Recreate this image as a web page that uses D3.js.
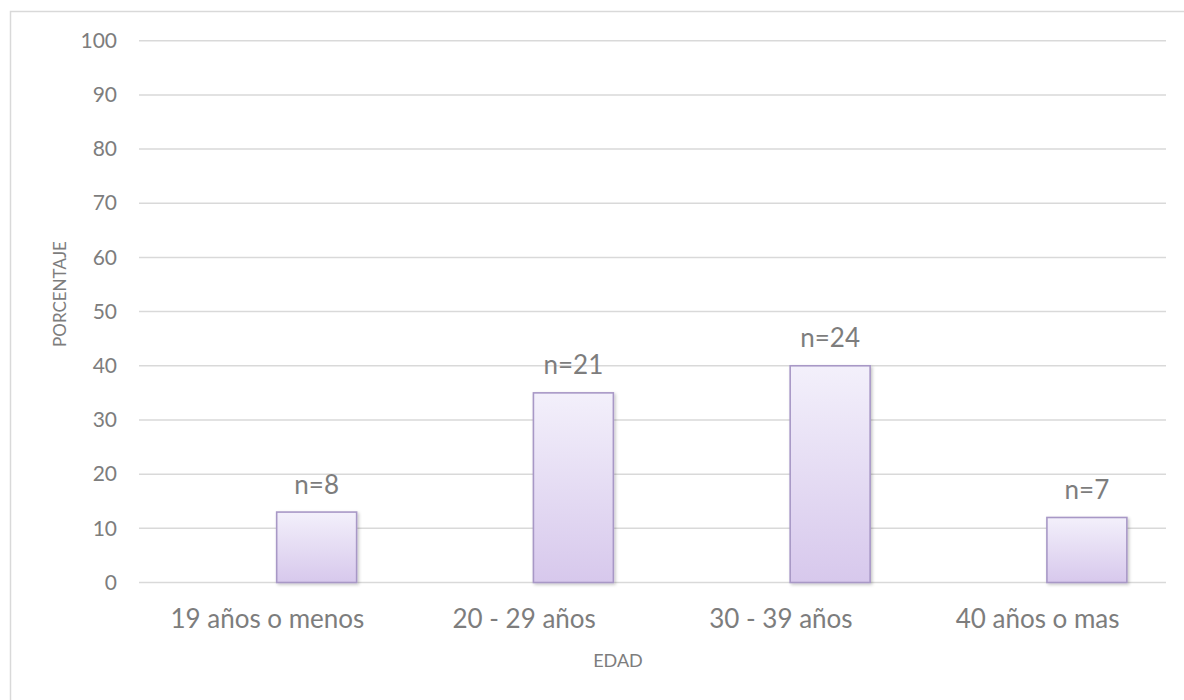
<!DOCTYPE html>
<html>
<head>
<meta charset="utf-8">
<script src="https://cdn.jsdelivr.net/npm/d3@7"></script>
<style>
  html, body { margin: 0; padding: 0; background: #ffffff; }
  svg { display: block; font-family: Lato, "Open Sans", sans-serif; }
</style>
</head>
<body>
<svg id="chart" width="1184" height="700"></svg>
<script>
// Age groups and their share of respondents (%)
const categories = ["19 años o menos", "20 - 29 años", "30 - 39 años", "40 años o mas"];
const percentages = [13, 35, 40, 12];
const counts = ["n=8", "n=21", "n=24", "n=7"];
// Clustered layout: an empty leading series, the values sit in the second slot
const seriesKeys = ["vacía", "porcentaje"];
const yTicks = [0, 10, 20, 30, 40, 50, 60, 70, 80, 90, 100];

const svg = d3.select("#chart");
const textColor = "#7d7d7d";
const gridColor = "#d9d9d9";

const plot = { left: 139, right: 1166, top: 40.7, bottom: 582.5 };

// Outer chart frame
svg.append("rect")
  .attr("x", 10.5).attr("y", 11.5)
  .attr("width", 1190).attr("height", 720)
  .attr("fill", "none").attr("stroke", gridColor).attr("stroke-width", 1.5);

const defs = svg.append("defs");
const grad = defs.append("linearGradient")
  .attr("id", "barFill").attr("x1", 0).attr("y1", 0).attr("x2", 0).attr("y2", 1);
grad.append("stop").attr("offset", "0%").attr("stop-color", "#f3f0fb");
grad.append("stop").attr("offset", "100%").attr("stop-color", "#d7c8ec");

const shadow = defs.append("filter").attr("id", "barShadow")
  .attr("x", "-10%").attr("y", "-10%").attr("width", "130%").attr("height", "130%");
shadow.append("feDropShadow")
  .attr("dx", 1.5).attr("dy", 1.5).attr("stdDeviation", 1.6)
  .attr("flood-color", "#000").attr("flood-opacity", 0.22);

const y = d3.scaleLinear().domain([0, 100]).range([plot.bottom, plot.top]);
const x0 = d3.scaleBand().domain(categories).range([plot.left, plot.right]).padding(0);
const x1 = d3.scaleBand().domain(seriesKeys).range([0, x0.bandwidth()])
  .paddingInner(0.1886).paddingOuter(0.397);

// Horizontal gridlines
svg.append("g")
  .selectAll("line")
  .data(yTicks)
  .join("line")
  .attr("x1", plot.left).attr("x2", plot.right)
  .attr("y1", d => y(d)).attr("y2", d => y(d))
  .attr("stroke", gridColor).attr("stroke-width", 1.5);

// Y axis tick labels
const yAxis = d3.axisLeft(y).tickValues(yTicks).tickSize(0).tickPadding(22);
const gy = svg.append("g").attr("transform", `translate(${plot.left},0)`).call(yAxis);
gy.select(".domain").remove();
gy.selectAll("text")
  .attr("fill", textColor)
  .style("font-size", "21px")
  .style("font-family", "Lato, sans-serif");

// X axis category labels
const xAxis = d3.axisBottom(x0).tickSize(0).tickPadding(27);
const gx = svg.append("g").attr("transform", `translate(0,${plot.bottom})`).call(xAxis);
gx.select(".domain").remove();
gx.selectAll("text")
  .attr("fill", textColor)
  .attr("dy", 0)
  .attr("y", 45.5)
  .style("font-size", "26px")
  .style("font-family", "Lato, sans-serif");

// Bars
const rows = categories.map((c, i) => ({ cat: c, value: percentages[i], label: counts[i] }));
const barW = x1.bandwidth();
svg.append("g")
  .selectAll("rect")
  .data(rows)
  .join("rect")
  .attr("x", d => x0(d.cat) + x1("porcentaje"))
  .attr("y", d => y(d.value))
  .attr("width", barW)
  .attr("height", d => y(0) - y(d.value))
  .attr("fill", "url(#barFill)")
  .attr("stroke", "#a898c6")
  .attr("stroke-width", 1.6)
  .attr("filter", "url(#barShadow)");

// Count labels above bars
svg.append("g")
  .selectAll("text")
  .data(rows)
  .join("text")
  .attr("x", d => x0(d.cat) + x1("porcentaje") + barW / 2)
  .attr("y", d => y(d.value) - 18.5)
  .attr("text-anchor", "middle")
  .attr("fill", textColor)
  .style("font-size", "26px")
  .text(d => d.label);

// Axis titles
svg.append("text")
  .attr("transform", `translate(66,294) rotate(-90)`)
  .attr("text-anchor", "middle")
  .attr("fill", textColor)
  .style("font-size", "17px")
  .text("PORCENTAJE");

svg.append("text")
  .attr("x", 618)
  .attr("y", 667)
  .attr("text-anchor", "middle")
  .attr("fill", textColor)
  .style("font-size", "18px")
  .text("EDAD");
</script>
</body>
</html>
